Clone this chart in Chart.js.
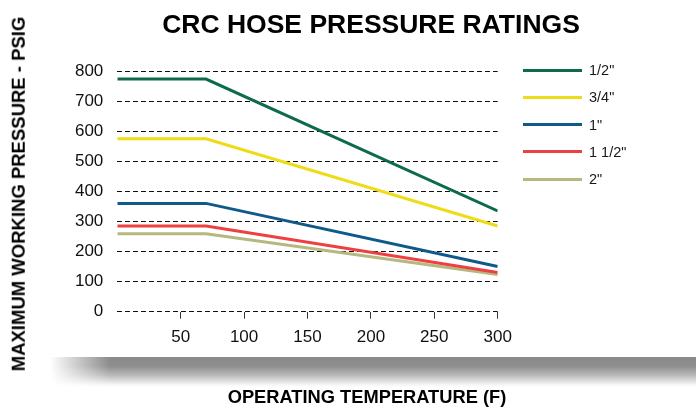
<!DOCTYPE html>
<html>
<head>
<meta charset="utf-8">
<script src="https://cdn.jsdelivr.net/npm/chart.js@4"></script>
<style>
  body { margin: 0; background: #fff; }
  #wrap { position: relative; width: 696px; height: 407px; overflow: hidden; font-family: Arial, "Liberation Sans", sans-serif; }
  #c { position: absolute; left: 0; top: 0; }
  .shadow {
    position: absolute; left: 50px; top: 357px; width: 650px; height: 30px;
    background: linear-gradient(to bottom, #8a8a8a 0%, #8e8e8e 30%, #b8b8b8 60%, #f2f2f2 90%, #fff 100%);
    -webkit-mask-image: linear-gradient(to right, transparent 0px, #000 60px);
    mask-image: linear-gradient(to right, transparent 0px, #000 60px);
  }
  .title { position: absolute; left: 371px; top: 11px; transform: translateX(-50%); font-size: 26.5px; line-height: 26.5px; font-weight: bold; color: #000; white-space: nowrap; }
  .ytitle { position: absolute; left: 18.5px; top: 194px; transform: translate(-50%, -50%) rotate(-90deg); font-size: 18.5px; line-height: 18.5px; font-weight: bold; color: #000; white-space: nowrap; }
  .xtitle { position: absolute; left: 367px; top: 397px; transform: translate(-50%, -50%); font-size: 18.3px; line-height: 18.3px; font-weight: bold; color: #000; white-space: nowrap; }
  .leg { position: absolute; left: 523px; height: 0; }
  .leg i { position: absolute; left: 0; top: -1.5px; width: 59px; height: 3px; }
  .leg span { position: absolute; left: 66px; top: -8px; font-size: 14.5px; line-height: 16px; color: #1a1a1a; white-space: nowrap; }
</style>
</head>
<body>
<div id="wrap">
  <div class="shadow"></div>
  <canvas id="c" width="696" height="407"></canvas>
  <div class="title">CRC HOSE PRESSURE RATINGS</div>
  <div class="ytitle">MAXIMUM WORKING PRESSURE - PSIG</div>
  <div class="xtitle">OPERATING TEMPERATURE (F)</div>
</div>
<script>
// temperatures (F) where the curves bend
const temps = [0, 70, 300];

// max working pressure (psig) per hose size
const halfInch = [773, 773, 335];
const threeQuarterInch = [575, 575, 285];
const oneInch = [360, 360, 150];
const oneHalfInch = [285, 285, 130];
const twoInch = [259, 259, 124];

const sizeNames = ['1/2"', '3/4"', '1"', '1 1/2"', '2"'];
const sizeColors = ['#0d6a4c', '#eedc16', '#0f5a8a', '#ee3f43', '#b5b87f'];

const xTicks = [50, 100, 150, 200, 250, 300];
const yTicks = [0, 100, 200, 300, 400, 500, 600, 700, 800];

const allSeries = [halfInch, threeQuarterInch, oneInch, oneHalfInch, twoInch];

const datasets = allSeries.map((vals, i) => ({
  label: sizeNames[i],
  data: vals.map((v, j) => ({ x: temps[j], y: v })),
  borderColor: sizeColors[i],
  borderWidth: 3,
  pointRadius: 0,
  fill: false,
  tension: 0
}));

// legend drawn as html next to the chart
const wrap = document.getElementById('wrap');
sizeNames.forEach((name, i) => {
  const d = document.createElement('div');
  d.className = 'leg';
  d.style.top = (70 + i * 27.3) + 'px';
  d.innerHTML = '<i style="background:' + sizeColors[i] + '"></i><span>' + name + '</span>';
  wrap.appendChild(d);
});

const chartTop = 71, chartBottom = 311.7, chartLeft = 117.3, chartRight = 497.7;

new Chart(document.getElementById('c'), {
  type: 'line',
  data: { datasets: datasets },
  options: {
    responsive: false,
    animation: false,
    layout: { padding: { top: chartTop, right: 696 - chartRight, bottom: 0, left: 0 } },
    plugins: { legend: { display: false }, tooltip: { enabled: false } },
    scales: {
      x: {
        type: 'linear',
        min: 0,
        max: 300,
        afterBuildTicks: s => { s.ticks = [0].concat(xTicks).map(v => ({ value: v })); },
        afterFit: s => { s.height = 407 - chartBottom; },
        ticks: {
          padding: 8.6,
          color: '#111',
          font: { family: 'Arial', size: 17 },
          maxRotation: 0,
          callback: v => (v === 0 ? '' : v)
        },
        grid: {
          drawOnChartArea: false,
          tickLength: 7,
          lineWidth: 1,
          color: c => (c.tick && c.tick.value === 0 ? 'rgba(0,0,0,0)' : '#333')
        },
        border: { display: false }
      },
      y: {
        min: 0,
        max: 800,
        afterBuildTicks: s => { s.ticks = yTicks.map(v => ({ value: v })); },
        afterFit: s => { s.width = chartLeft; },
        ticks: {
          padding: 14,
          color: '#111',
          font: { family: 'Arial', size: 17 }
        },
        grid: { drawTicks: false, color: '#111', lineWidth: 1 },
        border: { display: false, dash: [5, 3] }
      }
    }
  }
});
</script>
</body>
</html>
